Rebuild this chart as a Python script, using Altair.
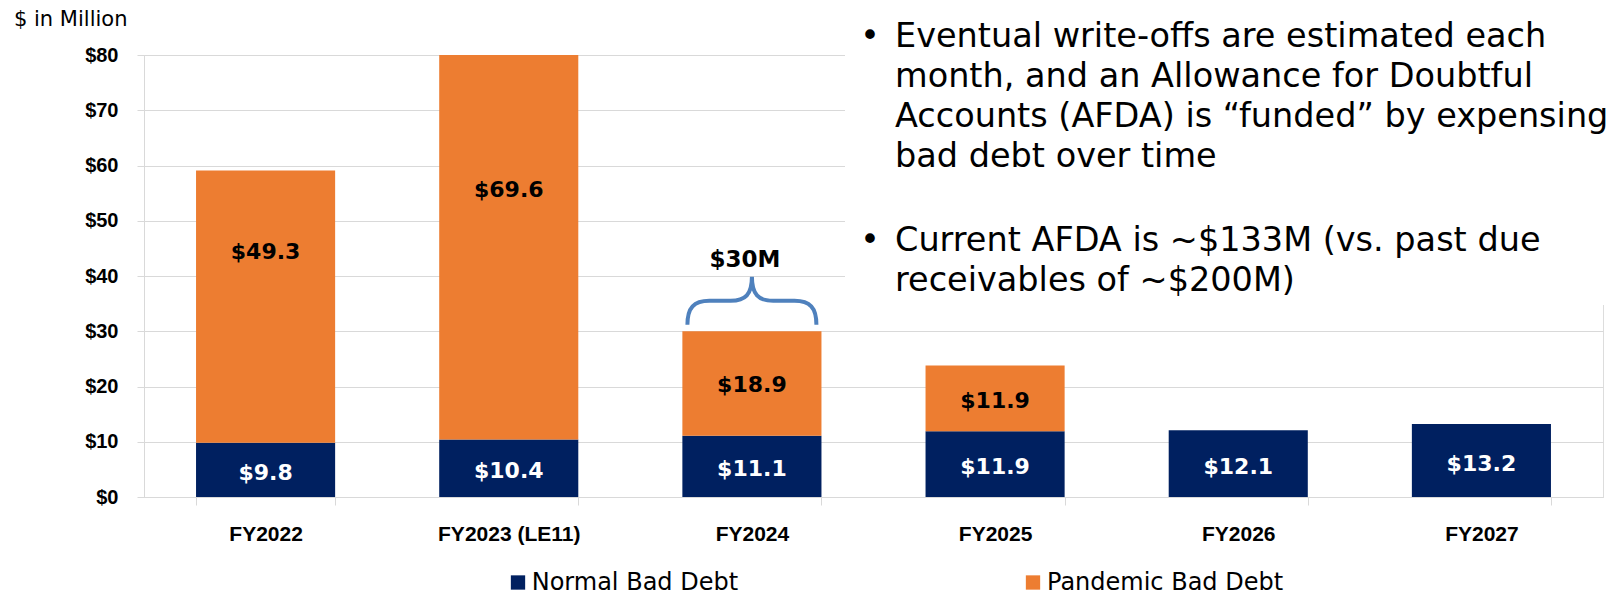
import altair as alt
import pandas as pd

# ---------------- data ----------------
years = ["FY2022", "FY2023 (LE11)", "FY2024", "FY2025", "FY2026", "FY2027"]
normal_debt = [9.8, 10.4, 11.1, 11.9, 12.1, 13.2]
pandemic_debt = [49.3, 69.6, 18.9, 11.9, 0.0, 0.0]
# where the pandemic value labels sit (data units, as placed on the slide)
pandemic_label_at = [44.4, 55.6, 20.3, 17.4, None, None]
series_names = ["Normal Bad Debt", "Pandemic Bad Debt"]
series_colors = ["#002060", "#ED7D31"]
y_ticks = [0, 10, 20, 30, 40, 50, 60, 70, 80]

annotation_year = "FY2024"
annotation_text = "$30M"
annotation_label_at = 42.9
brace_at = 35.5

unit_title = "$ in Million"
bullet_1 = [
    "Eventual write-offs are estimated each",
    "month, and an Allowance for Doubtful",
    "Accounts (AFDA) is \u201cfunded\u201d by expensing",
    "bad debt over time",
]
bullet_2 = [
    "Current AFDA is ~$133M (vs. past due",
    "receivables of ~$200M)",
]

# ---------------- tables ----------------
bar_rows = []
for yr, n, p in zip(years, normal_debt, pandemic_debt):
    bar_rows.append({"year": yr, "series": series_names[0], "start": 0.0, "end": n})
    if p > 0:
        bar_rows.append({"year": yr, "series": series_names[1], "start": n, "end": n + p})
bar_df = pd.DataFrame(bar_rows)

normal_lbl = pd.DataFrame({
    "year": years,
    "pos": [n / 2 for n in normal_debt],
    "label": [f"${n:.1f}" for n in normal_debt],
})
pand_lbl = pd.DataFrame([
    {"year": yr, "pos": at, "label": f"${p:.1f}"}
    for yr, p, at in zip(years, pandemic_debt, pandemic_label_at) if p > 0
])

W, H = 1459, 442
LINE = 40.2
text_rows = []
for i, t in enumerate(bullet_1):
    text_rows.append({"text": t, "py": -8.3 + i * LINE})
for i, t in enumerate(bullet_2):
    text_rows.append({"text": t, "py": 195.7 + i * LINE})
text_df = pd.DataFrame(text_rows)
dot_df = pd.DataFrame({"text": ["\u2022", "\u2022"], "py": [-8.3, 195.7]})

legend_df = pd.DataFrame({
    "series": series_names,
    "sx": [374, 889],
    "tx": [387.7, 903],
})

one = pd.DataFrame({"k": [0]})

# ---------------- scales ----------------
x_scale = alt.Scale(domain=years, paddingInner=0.428, paddingOuter=0.214)
y_scale = alt.Scale(domain=[0, 80], nice=False, zero=True)
color_scale = alt.Scale(domain=series_names, range=series_colors)

GRID = "#D9D9D9"

x_axis = alt.Axis(
    title=None, labelAngle=0, labelFont="Liberation Sans", labelFontWeight="bold",
    labelFontSize=21, labelColor="black", labelPadding=29, labelBaseline="middle",
    tickBand="extent", tickSize=8, tickColor=GRID, domainColor=GRID, grid=False,
)
y_axis = alt.Axis(
    values=y_ticks, labelExpr="'$' + datum.value", title=None,
    labelFont="Liberation Sans", labelFontWeight="bold", labelFontSize=20,
    labelColor="black", labelPadding=19, tickSize=7, tickColor=GRID,
    domainColor=GRID, gridColor=GRID, grid=True,
)

bars = alt.Chart(bar_df).mark_bar().encode(
    x=alt.X("year:N", sort=years, scale=x_scale, axis=x_axis),
    y=alt.Y("start:Q", scale=y_scale, axis=y_axis),
    y2="end:Q",
    color=alt.Color("series:N", scale=color_scale, legend=None),
)

cover = alt.Chart(one).mark_rect(color="white").encode(
    x=alt.value(701), x2=alt.value(W + 10), y=alt.value(-10), y2=alt.value(250)
)

normal_text = alt.Chart(normal_lbl).mark_text(
    font="DejaVu Sans", fontWeight="bold", fontSize=22, color="white",
    baseline="middle", dy=3,
).encode(x=alt.X("year:N", sort=years), y="pos:Q", text="label:N")

pand_text = alt.Chart(pand_lbl).mark_text(
    font="DejaVu Sans", fontWeight="bold", fontSize=22, color="black",
    baseline="middle",
).encode(x=alt.X("year:N", sort=years), y="pos:Q", text="label:N")

ann_df = pd.DataFrame({"year": [annotation_year], "pos": [annotation_label_at],
                       "label": [annotation_text], "bpos": [brace_at]})
ann_text = alt.Chart(ann_df).mark_text(
    font="DejaVu Sans", fontWeight="bold", fontSize=23, color="black",
    baseline="middle", dx=-7,
).encode(x=alt.X("year:N", sort=years), y="pos:Q", text="label:N")

brace_path = ("M -1 0.372 C -1 0.1 -0.9 0 -0.66 0 L -0.33 0 C -0.1 0 0 -0.1 0 -0.372 "
              "C 0 -0.1 0.1 0 0.33 0 L 0.66 0 C 0.9 0 1 0.1 1 0.372")
brace = alt.Chart(ann_df).mark_point(
    shape=brace_path, size=129 * 129, filled=False, strokeWidth=4,
    color="#4F81BD", opacity=1,
).encode(x=alt.X("year:N", sort=years), y="bpos:Q")

bullet_text = alt.Chart(text_df).mark_text(
    font="DejaVu Sans", fontSize=33.5, color="black", align="left", baseline="alphabetic",
).encode(x=alt.value(751), y=alt.Y("py:Q", scale=None), text="text:N")

bullet_dots = alt.Chart(dot_df).mark_text(
    font="DejaVu Sans", fontSize=33, color="black", align="center", baseline="alphabetic",
).encode(x=alt.value(726), y=alt.Y("py:Q", scale=None), text="text:N")

title_text = alt.Chart(one).mark_text(
    font="DejaVu Sans", fontSize=21, color="black", align="left", baseline="middle",
    text=unit_title,
).encode(x=alt.value(-130), y=alt.value(-35))

legend_sq = alt.Chart(legend_df).mark_square(size=205, opacity=1).encode(
    x=alt.X("sx:Q", scale=None), y=alt.value(527.5),
    color=alt.Color("series:N", scale=color_scale, legend=None),
)
legend_tx = alt.Chart(legend_df).mark_text(
    font="DejaVu Sans", fontSize=24, color="black", align="left", baseline="middle",
).encode(x=alt.X("tx:Q", scale=None), y=alt.value(527.5), text="series:N")

chart = alt.layer(
    cover, bars, normal_text, pand_text, ann_text, brace,
    bullet_text, bullet_dots, title_text, legend_sq, legend_tx,
).properties(
    width=W, height=H,
    autosize=alt.AutoSizeParams(type="none"),
    padding={"left": 136, "top": 47, "right": 12, "bottom": 100},
).configure_view(stroke=None).configure(background="white")

chart.save("out.html", embed_options={"renderer": "svg", "actions": False})
